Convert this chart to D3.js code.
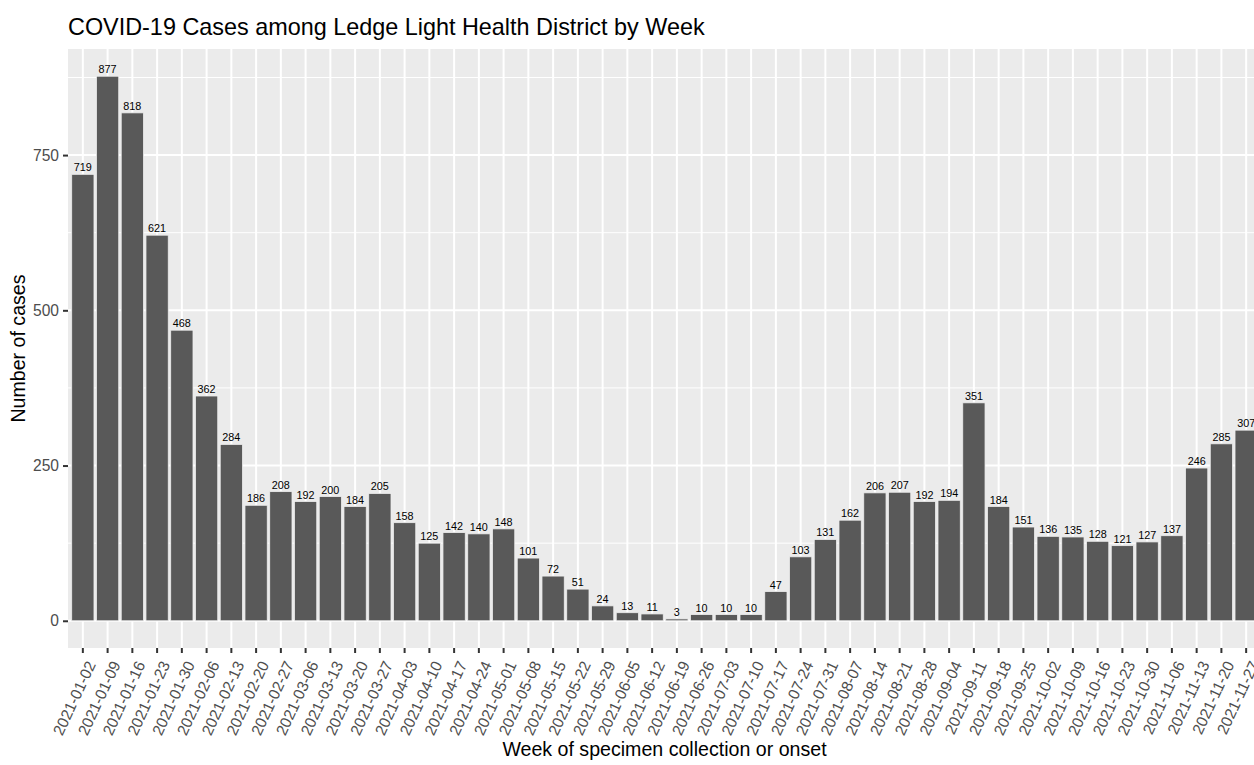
<!DOCTYPE html>
<html>
<head>
<meta charset="utf-8">
<script src="https://cdn.jsdelivr.net/npm/d3@7"></script>
<style>
  html, body { margin: 0; padding: 0; background: #ffffff; overflow: hidden; }
  svg { display: block; font-family: "Liberation Sans", Arial, sans-serif; }
</style>
</head>
<body>
<svg id="chart" width="1254" height="765"></svg>
<script>
const weeks = [
  "2021-01-02","2021-01-09","2021-01-16","2021-01-23","2021-01-30","2021-02-06",
  "2021-02-13","2021-02-20","2021-02-27","2021-03-06","2021-03-13","2021-03-20",
  "2021-03-27","2021-04-03","2021-04-10","2021-04-17","2021-04-24","2021-05-01",
  "2021-05-08","2021-05-15","2021-05-22","2021-05-29","2021-06-05","2021-06-12",
  "2021-06-19","2021-06-26","2021-07-03","2021-07-10","2021-07-17","2021-07-24",
  "2021-07-31","2021-08-07","2021-08-14","2021-08-21","2021-08-28","2021-09-04",
  "2021-09-11","2021-09-18","2021-09-25","2021-10-02","2021-10-09","2021-10-16",
  "2021-10-23","2021-10-30","2021-11-06","2021-11-13","2021-11-20","2021-11-27"
];
const cases = [
  719, 877, 818, 621, 468, 362,
  284, 186, 208, 192, 200, 184,
  205, 158, 125, 142, 140, 148,
  101, 72, 51, 24, 13, 11,
  3, 10, 10, 10, 47, 103,
  131, 162, 206, 207, 192, 194,
  351, 184, 151, 136, 135, 128,
  121, 127, 137, 246, 285, 307
];
const yTicks = [0, 250, 500, 750];
const yMinor = [125, 375, 625, 875];
const titleText = "COVID-19 Cases among Ledge Light Health District by Week";
const xTitle = "Week of specimen collection or onset";
const yTitle = "Number of cases";

const svg = d3.select("#chart");
const panel = { left: 68, right: 1261, top: 49, bottom: 648 };

const x = d3.scaleBand()
  .domain(weeks)
  .range([panel.left, panel.right])
  .paddingInner(0.1)
  .paddingOuter(0.15);

const maxV = d3.max(cases);
const ex = 0.05 * maxV;
const y = d3.scaleLinear()
  .domain([-ex, maxV + ex])
  .range([panel.bottom, panel.top]);

// panel background
svg.append("rect")
  .attr("x", panel.left).attr("y", panel.top)
  .attr("width", panel.right - panel.left).attr("height", panel.bottom - panel.top)
  .attr("fill", "#EBEBEB");

const grid = svg.append("g");
grid.selectAll("line.minor").data(yMinor).enter().append("line")
  .attr("x1", panel.left).attr("x2", panel.right)
  .attr("y1", d => y(d)).attr("y2", d => y(d))
  .attr("stroke", "#ffffff").attr("stroke-width", 1);
grid.selectAll("line.majory").data(yTicks).enter().append("line")
  .attr("x1", panel.left).attr("x2", panel.right)
  .attr("y1", d => y(d)).attr("y2", d => y(d))
  .attr("stroke", "#ffffff").attr("stroke-width", 2);
grid.selectAll("line.majorx").data(weeks).enter().append("line")
  .attr("x1", d => x(d) + x.bandwidth() / 2).attr("x2", d => x(d) + x.bandwidth() / 2)
  .attr("y1", panel.top).attr("y2", panel.bottom)
  .attr("stroke", "#ffffff").attr("stroke-width", 2);

// bars
svg.append("g").selectAll("rect").data(weeks).enter().append("rect")
  .attr("x", d => x(d))
  .attr("width", x.bandwidth())
  .attr("y", (d, i) => y(cases[i]))
  .attr("height", (d, i) => y(0) - y(cases[i]))
  .attr("fill", "#595959")
  .attr("stroke", "#EDEDED")
  .attr("stroke-width", 0.8);

// value labels
svg.append("g").selectAll("text").data(weeks).enter().append("text")
  .attr("x", d => x(d) + x.bandwidth() / 2)
  .attr("y", (d, i) => y(cases[i]) - 3)
  .attr("text-anchor", "middle")
  .attr("font-size", "10.8px")
  .attr("fill", "#000000")
  .text((d, i) => cases[i]);

// y axis
const yAxis = d3.axisLeft(y).tickValues(yTicks).tickSize(5).tickPadding(4);
const gy = svg.append("g").attr("transform", `translate(${panel.left},0)`).call(yAxis);
gy.select(".domain").remove();
gy.selectAll(".tick line").attr("stroke", "#333333").attr("stroke-width", 2);
gy.selectAll(".tick text").attr("fill", "#4D4D4D").attr("font-size", "15.6px")
  .attr("font-family", "'Liberation Sans', Arial, sans-serif");

// x axis
const xAxis = d3.axisBottom(x).tickSize(5).tickPadding(0);
const gx = svg.append("g").attr("transform", `translate(0,${panel.bottom})`).call(xAxis);
gx.select(".domain").remove();
gx.selectAll(".tick line").attr("stroke", "#333333").attr("stroke-width", 2);
gx.selectAll(".tick text")
  .attr("fill", "#4D4D4D").attr("font-size", "15.6px")
  .attr("font-family", "'Liberation Sans', Arial, sans-serif")
  .attr("text-anchor", "end")
  .attr("dy", null)
  .attr("y", 0)
  .attr("transform", "translate(3,11.5) rotate(-65) translate(0,11.3)");

// title
svg.append("text")
  .attr("x", panel.left).attr("y", 35)
  .attr("font-size", "23.4px").attr("fill", "#000000")
  .text(titleText);

// axis titles
svg.append("text")
  .attr("x", (panel.left + panel.right) / 2).attr("y", 756)
  .attr("text-anchor", "middle")
  .attr("font-size", "19.6px").attr("fill", "#000000")
  .text(xTitle);

svg.append("text")
  .attr("transform", `translate(25,${(panel.top + panel.bottom) / 2}) rotate(-90)`)
  .attr("text-anchor", "middle")
  .attr("font-size", "19.6px").attr("fill", "#000000")
  .text(yTitle);
</script>
</body>
</html>
